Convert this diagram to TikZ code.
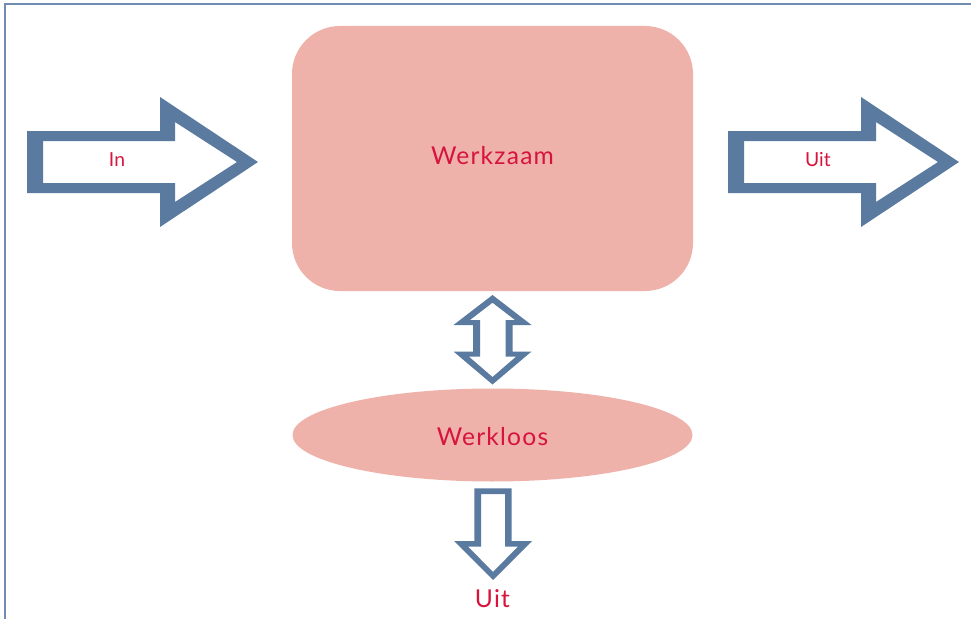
\documentclass[tikz,border=0pt]{standalone}
\usepackage{fontspec}
\setmainfont{Lato}
\newfontfamily\labelfont[LetterSpace=5]{Lato}
\usetikzlibrary{shapes.geometric}
\definecolor{arrowblue}{RGB}{90,122,160}
\definecolor{framegrey}{RGB}{112,140,176}
\definecolor{boxpink}{RGB}{239,178,170}
\definecolor{labelred}{RGB}{214,20,60}
\tikzset{
  blockarrow/.style={fill=arrowblue, even odd rule, draw=none},
  bigtext/.style={text=labelred, font=\labelfont\fontsize{21}{24}\selectfont},
  smalltext/.style={text=labelred, font=\fontsize{16.5}{19}\selectfont},
}
\begin{document}
\begin{tikzpicture}[x=0.03cm, y=-0.03cm]
\useasboundingbox (0,0) rectangle (971,619);
% page frame, only its top and left edges fall inside
\draw[framegrey, line width=0.9] (5,619) -- (5,4) -- (971,4);

% employed stock and unemployed stock
\node (werkzaam) [fill=boxpink, rounded corners=48*0.03cm, minimum width=401*0.03cm,
      minimum height=265*0.03cm, inner sep=0] at (492.5,158.5) {};
\node (werkzaamtxt) [bigtext] at (492.5,156) {Werkzaam};
\node (werkloos) [fill=boxpink, ellipse, minimum width=400*0.03cm,
      minimum height=93*0.03cm, inner sep=0] at (492.5,435) {};
\node (werkloostxt) [bigtext] at (492.5,437) {Werkloos};

% inflow arrow on the left
\fill[blockarrow]
  (27,131) -- (160,131) -- (160,97) -- (258,162) -- (160,227) -- (160,193) -- (27,193) -- cycle
  (43,141) -- (175,141) -- (175,122) -- (237,162) -- (175,202) -- (175,183) -- (43,183) -- cycle;
\node (in) [smalltext] at (117,160) {In};

% outflow arrow on the right
\fill[blockarrow]
  (728,131) -- (861,131) -- (861,97) -- (959,162) -- (861,227) -- (861,193) -- (728,193) -- cycle
  (744,141) -- (876,141) -- (876,122) -- (938,162) -- (876,202) -- (876,183) -- (744,183) -- cycle;
\node (uitr) [smalltext] at (818,160) {Uit};

% two-way arrow between the stocks
\fill[blockarrow]
  (492.5,295) -- (531.5,325) -- (512.5,325) -- (512.5,351.5) -- (531.5,351.5) -- (492.5,384.5)
  -- (453.5,351.5) -- (473,351.5) -- (473,325) -- (453.5,325) -- cycle
  (492.5,302.7) -- (515,320) -- (505.5,320) -- (505.5,356.7) -- (516,356.7) -- (492.5,377)
  -- (469,356.7) -- (480,356.7) -- (480,320) -- (470,320) -- cycle;

% outflow from unemployment
\fill[blockarrow]
  (474.3,488.3) -- (511.7,488.3) -- (511.7,541) -- (532,541) -- (493,580) -- (454,541)
  -- (474.3,541) -- cycle
  (481,494) -- (505,494) -- (505,546.5) -- (518,546.5) -- (493,572) -- (468,546.5)
  -- (481,546.5) -- cycle;
\node (uitb) [bigtext] at (492.5,599) {Uit};
\end{tikzpicture}
\end{document}
